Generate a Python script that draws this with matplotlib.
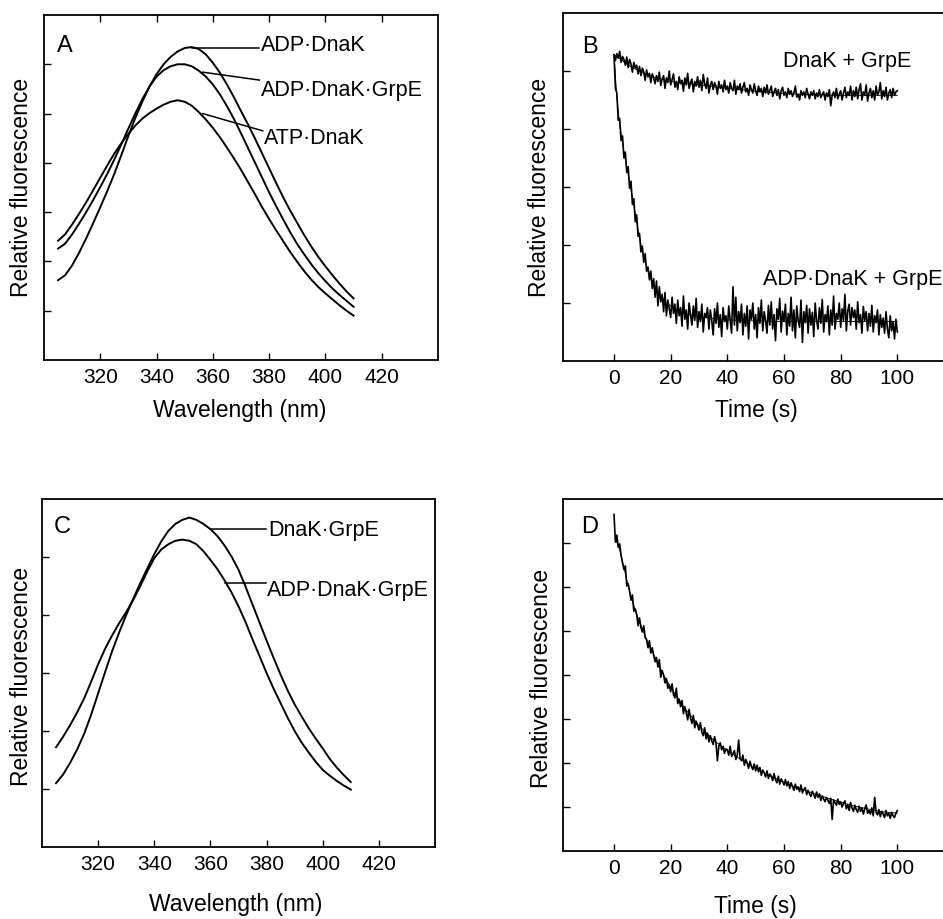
import numpy as np
import matplotlib
matplotlib.use('Agg')
import matplotlib.pyplot as plt

plt.rcParams['font.family'] = ['Liberation Sans', 'DejaVu Sans']

W, H = 943, 919

#*********************************** DATA **************************************
# panel A: emission spectra, 305-410 nm every 2.5 nm
wl_A = np.linspace(305, 410, 43)
adp_dnak_A = [1.62, 1.72, 1.92, 2.18, 2.47, 2.78, 3.10, 3.43, 3.78, 4.16, 4.55,
              4.92, 5.25, 5.55, 5.80, 6.00, 6.15, 6.26, 6.33, 6.35, 6.31, 6.20,
              6.03, 5.83, 5.59, 5.33, 5.05, 4.78, 4.49, 4.19, 3.89, 3.59, 3.30,
              3.03, 2.78, 2.53, 2.30, 2.09, 1.90, 1.72, 1.55, 1.39, 1.25]
adp_dnak_grpe_A = [2.26, 2.36, 2.55, 2.77, 3.00, 3.25, 3.51, 3.78, 4.07, 4.38, 4.70,
                   5.01, 5.30, 5.55, 5.75, 5.88, 5.96, 6.00, 6.00, 5.96, 5.87, 5.75,
                   5.59, 5.39, 5.15, 4.89, 4.60, 4.30, 4.00, 3.70, 3.40, 3.12, 2.85,
                   2.59, 2.35, 2.14, 1.94, 1.76, 1.60, 1.45, 1.32, 1.20, 1.08]
atp_dnak_A = [2.42, 2.55, 2.75, 2.97, 3.20, 3.45, 3.70, 3.95, 4.19, 4.40, 4.59,
              4.76, 4.90, 5.01, 5.10, 5.18, 5.24, 5.27, 5.24, 5.16, 5.03, 4.88,
              4.71, 4.52, 4.31, 4.09, 3.86, 3.61, 3.36, 3.10, 2.86, 2.63, 2.41,
              2.19, 1.99, 1.80, 1.63, 1.48, 1.35, 1.23, 1.11, 1.00, 0.90]
labels_A = ['ADP·DnaK', 'ADP·DnaK·GrpE', 'ATP·DnaK']

# panel C: emission spectra, 305-410 nm every 2.5 nm
wl_C = np.linspace(305, 410, 43)
dnak_grpe_C = [1.10, 1.25, 1.45, 1.68, 1.95, 2.28, 2.65, 3.02, 3.38, 3.70, 4.00,
               4.28, 4.55, 4.80, 5.05, 5.27, 5.45, 5.57, 5.64, 5.68, 5.64, 5.57,
               5.48, 5.36, 5.20, 5.01, 4.78, 4.49, 4.18, 3.87, 3.56, 3.26, 2.97,
               2.70, 2.46, 2.25, 2.05, 1.87, 1.70, 1.52, 1.37, 1.24, 1.12]
adp_dnak_grpe_C = [1.72, 1.90, 2.10, 2.32, 2.56, 2.85, 3.15, 3.42, 3.65, 3.86, 4.05,
                   4.26, 4.50, 4.75, 4.98, 5.13, 5.22, 5.28, 5.30, 5.28, 5.22, 5.10,
                   4.95, 4.79, 4.60, 4.39, 4.15, 3.88, 3.58, 3.29, 3.00, 2.73, 2.48,
                   2.23, 2.00, 1.80, 1.63, 1.47, 1.33, 1.23, 1.14, 1.06, 0.99]
labels_C = ['DnaK·GrpE', 'ADP·DnaK·GrpE']

# panels B and D: stopped-flow traces, sampled every 0.5 s from 0 to 100 s
time = np.linspace(0, 100, 201)

dnak_grpe_B = [
    5.28, 5.18, 5.30, 5.22, 5.34, 5.15, 5.25, 5.20, 5.10, 5.24,
    5.06, 5.20, 5.12, 4.98, 5.15, 5.05, 5.10, 4.95, 5.08, 4.92,
    5.05, 4.98, 4.84, 5.02, 4.90, 4.96, 4.80, 4.95, 4.88, 4.78,
    4.92, 4.82, 4.98, 4.75, 4.86, 4.92, 4.70, 4.88, 4.80, 5.00,
    4.76, 4.85, 4.95, 4.72, 4.82, 4.68, 4.90, 4.78, 4.84, 4.65,
    4.88, 4.76, 4.96, 4.70, 4.80, 4.86, 4.64, 4.82, 4.74, 4.90,
    4.72, 4.84, 4.66, 4.94, 4.78, 4.70, 4.88, 4.62, 4.76, 4.82,
    4.68, 4.80, 4.74, 4.60, 4.82, 4.70, 4.76, 4.64, 4.84, 4.68,
    4.74, 4.62, 4.80, 4.70, 4.66, 4.84, 4.60, 4.74, 4.68, 4.78,
    4.62, 4.72, 4.80, 4.64, 4.70, 4.58, 4.76, 4.68, 4.62, 4.78,
    4.66, 4.58, 4.74, 4.64, 4.70, 4.56, 4.72, 4.62, 4.76, 4.60,
    4.66, 4.74, 4.56, 4.64, 4.70, 4.58, 4.68, 4.52, 4.66, 4.72,
    4.58, 4.64, 4.54, 4.70, 4.60, 4.66, 4.56, 4.62, 4.74, 4.55,
    4.60, 4.50, 4.66, 4.58, 4.64, 4.54, 4.70, 4.60, 4.52, 4.64,
    4.58, 4.66, 4.52, 4.62, 4.56, 4.68, 4.54, 4.60, 4.64, 4.50,
    4.62, 4.56, 4.68, 4.40, 4.58, 4.64, 4.54, 4.70, 4.52, 4.60,
    4.66, 4.50, 4.62, 4.72, 4.54, 4.64, 4.58, 4.74, 4.50, 4.66,
    4.56, 4.72, 4.52, 4.68, 4.78, 4.50, 4.64, 4.58, 4.76, 4.48,
    4.62, 4.70, 4.54, 4.66, 4.50, 4.74, 4.58, 4.64, 4.80, 4.52,
    4.66, 4.56, 4.72, 4.50, 4.62, 4.68, 4.54, 4.70, 4.58, 4.64,
    4.66]

adp_dnak_grpe_B = [
    5.28, 4.70, 4.62, 4.15, 4.18, 3.80, 3.88, 3.50, 3.60, 3.25,
    3.35, 2.98, 3.10, 2.70, 2.80, 2.40, 2.52, 2.15, 2.20, 1.88,
    1.98, 1.70, 1.85, 1.55, 1.62, 1.40, 1.55, 1.25, 1.42, 1.10,
    1.38, 0.95, 1.28, 1.02, 1.15, 0.85, 1.18, 0.78, 1.05, 0.90,
    0.75, 1.10, 0.82, 0.98, 0.65, 1.05, 0.78, 0.92, 0.60, 1.12,
    0.72, 0.88, 0.55, 1.00, 0.80, 0.62, 0.95, 0.70, 1.08, 0.58,
    0.85, 0.68, 0.98, 0.50, 0.82, 0.75, 0.92, 0.55, 0.88, 0.70,
    0.45, 0.90, 0.65, 1.00, 0.58, 0.80, 0.42, 0.92, 0.68, 0.78,
    0.55, 0.95, 0.70, 0.48, 1.28, 0.62, 1.10, 0.52, 0.85, 0.66,
    0.98, 0.45, 0.82, 0.60, 0.95, 0.38, 0.88, 0.72, 1.00, 0.55,
    0.80, 0.40, 0.92, 0.65, 1.05, 0.52, 0.85, 0.70, 0.48, 0.96,
    0.62, 1.02, 0.55, 0.80, 0.35, 0.90, 0.72, 1.08, 0.50, 0.86,
    0.68, 0.98, 0.45, 0.82, 0.60, 1.10, 0.52, 0.88, 0.40, 0.95,
    0.70, 0.58, 1.05, 0.32, 0.85, 0.66, 0.96, 0.48, 0.90, 0.62,
    0.84, 0.42, 1.00, 0.70, 0.55, 0.92, 0.65, 1.06, 0.50, 0.80,
    0.68, 0.95, 0.45, 0.88, 0.62, 1.12, 0.55, 0.82, 0.72, 1.00,
    0.58, 0.90, 0.70, 1.15, 0.52, 0.86, 0.98, 0.62, 0.92, 0.75,
    0.88, 0.55, 1.02, 0.66, 0.80, 0.48, 0.94, 0.70, 0.85, 0.52,
    0.82, 0.60, 0.96, 0.50, 0.78, 0.66, 0.88, 0.45, 0.80, 0.58,
    0.74, 0.48, 0.85, 0.55, 0.40, 0.78, 0.52, 0.68, 0.38, 0.72,
    0.50]

trace_D = [
    7.65, 7.02, 7.18, 6.90, 6.98, 6.72, 6.55, 6.40, 6.48, 6.02,
    6.08, 5.90, 5.70, 5.82, 5.45, 5.50, 5.38, 5.12, 5.30, 5.08,
    4.98, 5.12, 4.85, 4.80, 4.62, 4.78, 4.50, 4.62, 4.45, 4.30,
    4.40, 4.18, 4.35, 3.95, 4.10, 4.00, 3.82, 3.92, 3.70, 3.78,
    3.62, 3.80, 3.55, 3.48, 3.70, 3.35, 3.45, 3.28, 3.42, 3.12,
    3.28, 3.15, 2.98, 3.22, 3.02, 2.90, 3.08, 2.80, 2.95, 2.85,
    2.75, 2.92, 2.70, 2.62, 2.80, 2.55, 2.68, 2.48, 2.62, 2.50,
    2.42, 2.60, 2.45, 2.05, 2.38, 2.46, 2.30, 2.38, 2.22, 2.32,
    2.30, 2.18, 2.38, 2.15, 2.22, 2.28, 2.08, 2.18, 2.52, 2.10,
    2.05, 2.18, 1.95, 2.08, 2.00, 1.88, 2.04, 1.92, 1.85, 1.98,
    1.82, 1.95, 1.80, 1.90, 1.72, 1.84, 1.78, 1.68, 1.82, 1.65,
    1.75, 1.70, 1.60, 1.76, 1.62, 1.55, 1.70, 1.52, 1.64, 1.58,
    1.50, 1.62, 1.48, 1.58, 1.42, 1.55, 1.46, 1.38, 1.52, 1.40,
    1.46, 1.35, 1.50, 1.32, 1.40, 1.44, 1.28, 1.38, 1.30, 1.24,
    1.36, 1.28, 1.20, 1.34, 1.22, 1.30, 1.15, 1.25, 1.18, 1.12,
    1.22, 1.15, 1.08, 1.20, 0.72, 1.16, 1.10, 1.04, 1.18, 1.06,
    1.12, 1.00, 1.08, 1.14, 0.96, 1.05, 0.92, 1.10, 0.98, 0.90,
    1.04, 0.94, 0.88, 1.02, 0.90, 0.98, 0.84, 0.96, 1.05, 0.86,
    0.92, 0.84, 0.98, 0.80, 1.22, 0.88, 0.82, 0.94, 0.78, 0.90,
    0.84, 0.76, 0.92, 0.80, 0.86, 0.74, 0.88, 0.80, 0.76, 0.86,
    0.92]

# fitted curves drawn as thin lines over the traces
fit_t_B = [0, 1, 2, 3, 4, 5, 6, 8, 10, 12, 14, 16, 18, 20, 25, 30, 40, 50, 60, 70, 80, 90, 100]
fit_lower_B = [5.28, 4.55, 4.08, 3.76, 3.47, 3.22, 2.96, 2.40, 1.88, 1.55, 1.32, 1.15,
               1.03, 0.95, 0.82, 0.76, 0.71, 0.69, 0.68, 0.68, 0.68, 0.68, 0.68]
fit_upper_t_B = [0, 2.5, 5, 10, 15, 20, 30, 40, 50, 60, 70, 80, 90, 100]
fit_upper_B = [5.28, 5.20, 5.10, 4.97, 4.88, 4.82, 4.76, 4.70, 4.65, 4.61, 4.59, 4.58, 4.58, 4.58]
fit_t_D = [0.5, 2, 4, 6, 8, 10, 12.5, 15, 17.5, 20, 25, 30, 35, 40, 45, 50,
           55, 60, 65, 70, 75, 80, 85, 90, 95, 100]
fit_D = [7.10, 6.85, 6.30, 5.77, 5.38, 5.04, 4.66, 4.34, 4.00, 3.72, 3.24, 2.85, 2.53, 2.28,
         2.07, 1.88, 1.71, 1.56, 1.43, 1.32, 1.21, 1.11, 1.02, 0.95, 0.89, 0.86]

#*********************************** HELPERS ***********************************
TICK_SIZE = 15
LABEL_SIZE = 16.5
NOTE_SIZE = 15.5

def fx(x):
    return x / W

def fy(y):
    return 1 - y / H

def make_axes(fig, left, top, right, bottom):
    return fig.add_axes([fx(left), fy(bottom), (right - left) / W, (bottom - top) / H])

def style(ax, top_ticks=False):
    for s in ax.spines.values():
        s.set_linewidth(1.3)
    ax.tick_params(direction='in', length=5, width=1.0, pad=6, labelsize=TICK_SIZE,
                   top=top_ticks, right=False)
    ax.set_yticklabels([])

#************************************ MAIN *************************************
fig = plt.figure(figsize=(W / 100, H / 100), dpi=100)

# ---- A
axA = make_axes(fig, 44, 15, 438, 360)
axA.plot(wl_A, adp_dnak_A, 'k-', lw=1.4)
axA.plot(wl_A, adp_dnak_grpe_A, 'k-', lw=1.4)
axA.plot(wl_A, atp_dnak_A, 'k-', lw=1.4)
axA.set_xlim(300, 440)
axA.set_ylim(0, 7)
axA.set_xticks([320, 340, 360, 380, 400, 420])
axA.set_yticks([1, 2, 3, 4, 5, 6])
style(axA, top_ticks=True)
axA.plot([352.5, 376.5], [6.34, 6.34], 'k-', lw=1.1)
axA.plot([356.4, 376.5], [5.84, 5.68], 'k-', lw=1.1)
axA.plot([356.4, 377.7], [5.00, 4.65], 'k-', lw=1.1)
axA.text(377.1, 6.38, labels_A[0], fontsize=NOTE_SIZE, va='center')
axA.text(377.1, 5.47, labels_A[1], fontsize=NOTE_SIZE, va='center')
axA.text(378.2, 4.50, labels_A[2], fontsize=NOTE_SIZE, va='center')
fig.text(fx(57), fy(46), 'A', fontsize=17, va='center')

# ---- B
axB = make_axes(fig, 563, 13, 954, 361)
axB.plot(time, dnak_grpe_B, 'k-', lw=1.2)
axB.plot(time, adp_dnak_grpe_B, 'k-', lw=1.2)
axB.plot(fit_upper_t_B, fit_upper_B, 'k-', lw=0.6)
axB.plot(fit_t_B, fit_lower_B, 'k-', lw=0.6)
axB.set_xlim(-18, 120)
axB.set_ylim(0, 6)
axB.set_xticks([0, 20, 40, 60, 80, 100])
axB.set_yticks([1, 2, 3, 4, 5])
style(axB)
axB.text(59.6, 5.16, 'DnaK + GrpE', fontsize=NOTE_SIZE, va='center')
axB.text(52.7, 1.40, 'ADP·DnaK + GrpE', fontsize=NOTE_SIZE, va='center')
fig.text(fx(582), fy(47), 'B', fontsize=17, va='center')

# ---- C
axC = make_axes(fig, 42, 499, 435, 847)
axC.plot(wl_C, dnak_grpe_C, 'k-', lw=1.4)
axC.plot(wl_C, adp_dnak_grpe_C, 'k-', lw=1.4)
axC.set_xlim(300, 440)
axC.set_ylim(0, 6)
axC.set_xticks([320, 340, 360, 380, 400, 420])
axC.set_yticks([1, 2, 3, 4, 5])
style(axC)
axC.plot([359.8, 379.9], [5.48, 5.48], 'k-', lw=1.1)
axC.plot([365.1, 379.9], [4.55, 4.55], 'k-', lw=1.1)
axC.text(380.5, 5.45, labels_C[0], fontsize=NOTE_SIZE, va='center')
axC.text(380.2, 4.43, labels_C[1], fontsize=NOTE_SIZE, va='center')
fig.text(fx(54), fy(527), 'C', fontsize=17, va='center')

# ---- D
axD = make_axes(fig, 563, 499, 954, 851)
axD.plot(time, trace_D, 'k-', lw=1.2)
axD.plot(fit_t_D, fit_D, 'k-', lw=0.6)
axD.set_xlim(-18, 120)
axD.set_ylim(0, 8)
axD.set_xticks([0, 20, 40, 60, 80, 100])
axD.set_yticks([1, 2, 3, 4, 5, 6, 7])
style(axD)
fig.text(fx(581), fy(527), 'D', fontsize=17, va='center')

# axis labels
for (x, y) in [(22, 187), (540, 187), (22, 676), (542, 678)]:
    fig.text(fx(x), fy(y), 'Relative fluorescence', fontsize=LABEL_SIZE,
             rotation=90, ha='center', va='center')
fig.text(fx(240), fy(410), 'Wavelength (nm)', fontsize=LABEL_SIZE, ha='center', va='center')
fig.text(fx(236), fy(905), 'Wavelength (nm)', fontsize=LABEL_SIZE, ha='center', va='center')
fig.text(fx(756), fy(410), 'Time (s)', fontsize=LABEL_SIZE, ha='center', va='center')
fig.text(fx(755), fy(907), 'Time (s)', fontsize=LABEL_SIZE, ha='center', va='center')

fig.savefig('out.png', dpi=100)
